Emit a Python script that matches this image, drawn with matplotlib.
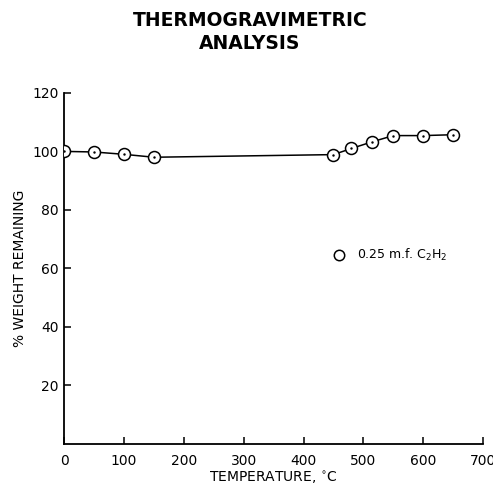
import matplotlib.pyplot as plt
from matplotlib.lines import Line2D

# TGA readings
temperature = [0, 50, 100, 150, 450, 480, 515, 550, 600, 650]
weight_remaining = [100, 99.8, 99, 98, 98.9, 101, 103.3, 105.4, 105.4, 105.7]

x_ticks = [0, 100, 200, 300, 400, 500, 600, 700]
y_ticks = [20, 40, 60, 80, 100, 120]

series_label = "0.25 m.f. C$_2$H$_2$"

plt.rcParams["font.family"] = ["DejaVu Sans"]
plt.rcParams["mathtext.fontset"] = "dejavusans"

fig = plt.figure(figsize=(4.93, 4.87), dpi=100)
ax = fig.add_axes([0.130, 0.0883, 0.850, 0.721])

# Connecting line and open circles with a tiny centre dot
ax.plot(temperature, weight_remaining, color="black", linewidth=1.1,
        marker="o", markersize=8.6, markerfacecolor="white",
        markeredgecolor="black", markeredgewidth=1.1, zorder=3)
ax.plot(temperature, weight_remaining, linestyle="none", marker=".",
        markersize=1.5, color="black", zorder=4)

ax.set_xlim(0, 700)
ax.set_ylim(0, 120)
ax.set_xticks(x_ticks)
ax.set_yticks(y_ticks)

for side in ["top", "right"]:
    ax.spines[side].set_visible(False)
for side in ["left", "bottom"]:
    ax.spines[side].set_linewidth(1.3)

ax.tick_params(direction="in", length=5, width=1.1, labelsize=10)
ax.tick_params(axis="x", pad=7)
ax.tick_params(axis="y", pad=4)

ax.set_xlabel("TEMPERATURE, $^{\\circ}$C", fontsize=10, labelpad=1)
ax.set_ylabel("% WEIGHT REMAINING", fontsize=10, labelpad=4)

fig.suptitle("THERMOGRAVIMETRIC\nANALYSIS", fontsize=13.5, fontweight="bold",
             x=0.507, y=0.977, linespacing=1.25)

handle = Line2D([], [], linestyle="none", marker="o", markersize=7.5,
                markerfacecolor="white", markeredgecolor="black",
                markeredgewidth=1.1)
ax.legend([handle], [series_label], loc="center left",
          bbox_to_anchor=(0.615, 0.538), frameon=False, fontsize=9,
          handlelength=1.0, handletextpad=0.9)

fig.savefig("out.png", dpi=100)
